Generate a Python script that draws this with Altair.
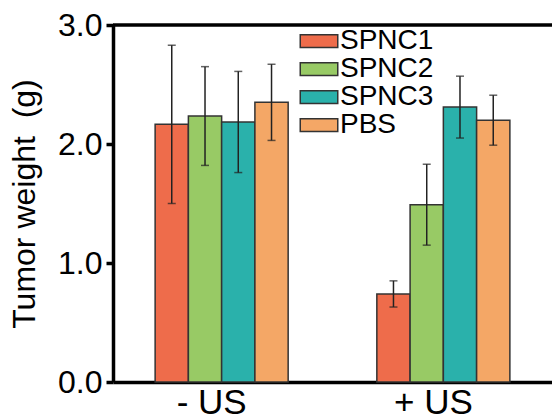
import altair as alt
import pandas as pd

groups = ["- US", "+ US"]
series = ["SPNC1", "SPNC2", "SPNC3", "PBS"]
colors = ["#EE6C4B", "#98CA65", "#2AB1AB", "#F4A766"]
means_minus = [2.165, 2.235, 2.185, 2.35]
errs_minus = [0.665, 0.415, 0.425, 0.32]
means_plus = [0.74, 1.49, 2.31, 2.20]
errs_plus = [0.11, 0.34, 0.26, 0.21]

rows = []
for g, ms, es in [(groups[0], means_minus, errs_minus), (groups[1], means_plus, errs_plus)]:
    for s, m, e in zip(series, ms, es):
        rows.append({"group": g, "series": s, "mean": m, "lo": m - e, "hi": m + e})
df = pd.DataFrame(rows)

FONT = "Liberation Sans"
W, H = 439, 357

xscale = alt.Scale(domain=groups, paddingInner=0.4, paddingOuter=0.19)
xenc = alt.X("group:N", scale=xscale, sort=groups,
             axis=alt.Axis(title=None, ticks=False, labelFontSize=35, labelFont=FONT,
                           labelColor="black", labelPadding=3, domainColor="black",
                           domainWidth=3.5, labelAngle=0, labelOffset=-10))
yscale = alt.Scale(domain=[0, 3], nice=False)
yenc = alt.Y("mean:Q", scale=yscale,
             axis=alt.Axis(title="Tumor weight\u00a0 (g)", values=[0, 1, 2, 3], format=".1f",
                           labelFontSize=32, labelFont=FONT, labelColor="black",
                           titleFontSize=32, titleFont=FONT, titleFontWeight="normal",
                           titleColor="black", titlePadding=16, tickSize=7, tickWidth=3.5,
                           tickColor="black", domainColor="black", domainWidth=3.5,
                           grid=False, labelPadding=4))
xoff = alt.XOffset("series:N", sort=series, scale=alt.Scale(paddingInner=0, paddingOuter=0))

bars = alt.Chart(df).mark_bar(stroke="#333333", strokeWidth=1.5).encode(
    x=xenc,
    xOffset=xoff,
    y=yenc,
    color=alt.Color("series:N", sort=series,
                    scale=alt.Scale(domain=series, range=colors),
                    legend=alt.Legend(title=None, orient="none", legendX=192, legendY=2,
                                      symbolType="M-2.5,-0.85H2.5V0.85H-2.5Z", symbolSize=225,
                                      symbolStrokeColor="#333333", symbolStrokeWidth=1.5,
                                      symbolOpacity=1, labelFontSize=28, labelFont=FONT,
                                      labelColor="black", labelOffset=7, rowPadding=0,
                                      padding=0, symbolOffset=0)),
)

err = alt.Chart(df).mark_rule(color="#222222", strokeWidth=1.5).encode(
    x=alt.X("group:N", scale=xscale, sort=groups),
    xOffset=xoff,
    y=alt.Y("lo:Q", scale=yscale),
    y2="hi:Q",
)
cap_hi = alt.Chart(df).mark_tick(color="#222222", thickness=1.5, size=8, orient="horizontal").encode(
    x=alt.X("group:N", scale=xscale, sort=groups),
    xOffset=xoff,
    y=alt.Y("hi:Q", scale=yscale),
)
cap_lo = alt.Chart(df).mark_tick(color="#222222", thickness=1.5, size=8, orient="horizontal").encode(
    x=alt.X("group:N", scale=xscale, sort=groups),
    xOffset=xoff,
    y=alt.Y("lo:Q", scale=yscale),
)
top = alt.Chart(pd.DataFrame({"v": [3.0]})).mark_rule(color="black", strokeWidth=3.5).encode(
    y=alt.Y("v:Q", scale=yscale),
    x=alt.value(0),
    x2=alt.value(W),
)

chart = alt.layer(bars, err, cap_hi, cap_lo, top).properties(
    width=W, height=H,
    autosize=alt.AutoSizeParams(type="none"),
    padding={"left": 113, "top": 25, "right": 0, "bottom": 38},
).configure_view(stroke=None).configure(background="white")

chart.save("out.html", embed_options={"renderer": "svg", "actions": False})
